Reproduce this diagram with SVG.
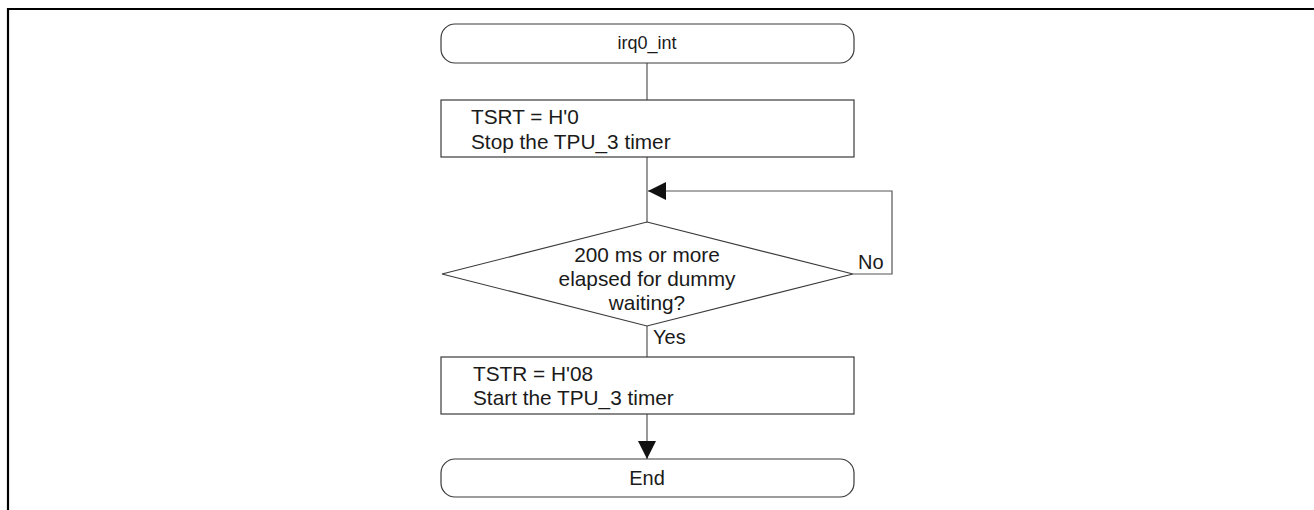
<svg xmlns="http://www.w3.org/2000/svg" width="1314" height="510" viewBox="0 0 1314 510">
  <style>
    .frame { fill: none; stroke: #000; stroke-width: 2.2; }
    .shape { fill: #fff; stroke: #3a3a3a; stroke-width: 1.2; }
    .line { fill: none; stroke: #555; stroke-width: 1.2; }
    text { font-family: "Liberation Sans", Arial, sans-serif; font-size: 20px; fill: #1a1a1a; }
    .c { text-anchor: middle; }
    .small { font-size: 18px; }
    .body { font-size: 20.8px; }
  </style>
  <defs>
    <marker id="arrow" markerWidth="18" markerHeight="18" refX="18" refY="9" orient="auto" markerUnits="userSpaceOnUse">
      <path d="M0,0 L18,9 L0,18 Z" fill="#111"/>
    </marker>
  </defs>

  <!-- page frame -->
  <path class="frame" d="M8,510 L8,9 L1314,9"/>

  <!-- connectors -->
  <g id="connectors">
    <line class="line" x1="647" y1="63" x2="647" y2="100"/>
    <line class="line" x1="647" y1="157" x2="647" y2="222"/>
    <path class="line" d="M853,274 L892,274 L892,191 L648,191" marker-end="url(#arrow)"/>
    <line class="line" x1="647" y1="326" x2="647" y2="357"/>
    <line class="line" x1="647" y1="414" x2="647" y2="459" marker-end="url(#arrow)"/>
    <text x="858" y="269">No</text>
    <text x="653" y="344">Yes</text>
  </g>

  <g id="start">
    <rect class="shape" x="441" y="24" width="413" height="39" rx="14"/>
    <text class="c small" x="647" y="49">irq0_int</text>
  </g>

  <g id="stop-timer">
    <rect class="shape" x="441" y="100" width="413" height="57"/>
    <text class="body" x="471" y="124">TSRT = H'0</text>
    <text class="body" x="471" y="149">Stop the TPU_3 timer</text>
  </g>

  <g id="wait-check">
    <polygon class="shape" points="647,222 853,274 647,326 442,274"/>
    <text class="c body" x="647" y="262">200 ms or more</text>
    <text class="c body" x="647" y="286">elapsed for dummy</text>
    <text class="c body" x="647" y="310">waiting?</text>
  </g>

  <g id="start-timer">
    <rect class="shape" x="441" y="357" width="413" height="57"/>
    <text class="body" x="473" y="381">TSTR = H'08</text>
    <text class="body" x="473" y="405">Start the TPU_3 timer</text>
  </g>

  <g id="end">
    <rect class="shape" x="441" y="459" width="413" height="38" rx="14"/>
    <text class="c" x="647" y="485">End</text>
  </g>
</svg>
